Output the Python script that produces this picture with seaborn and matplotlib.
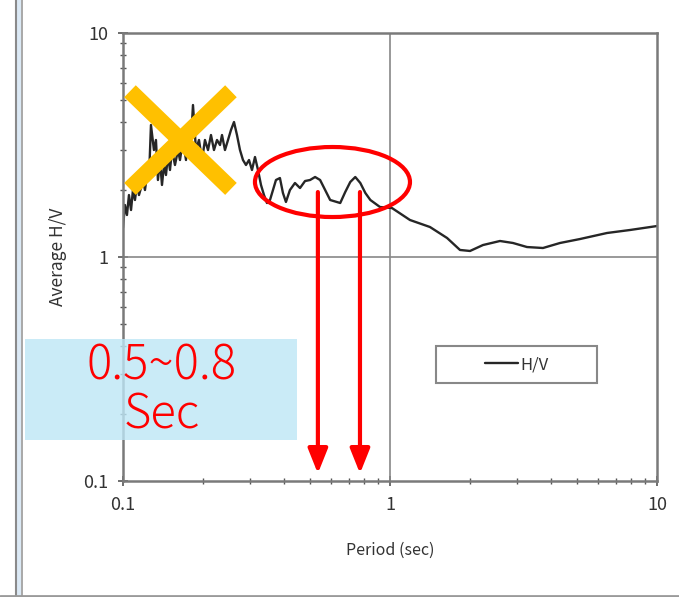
import matplotlib
matplotlib.use("Agg")
import matplotlib.pyplot as plt
import matplotlib.patches as mpatches
from matplotlib.lines import Line2D
from matplotlib.ticker import LogLocator, NullFormatter
import seaborn as sns
import pandas as pd

# ---- data ----
period = [0.1000, 0.1017, 0.1035, 0.1053, 0.1072, 0.1090, 0.1109, 0.1128, 0.1148,
          0.1168, 0.1188, 0.1209, 0.1230, 0.1251, 0.1273, 0.1306, 0.1329, 0.1352,
          0.1376, 0.1400, 0.1424, 0.1449, 0.1474, 0.1500, 0.1526, 0.1566, 0.1607,
          0.1635, 0.1678, 0.1722, 0.1752, 0.1798, 0.1829, 0.1877, 0.1926, 0.1977,
          0.2028, 0.2082, 0.2136, 0.2192, 0.2250, 0.2309, 0.2349, 0.2410, 0.2474,
          0.2538, 0.2605, 0.2673, 0.2743, 0.2815, 0.2889, 0.2965, 0.3042, 0.3122,
          0.3204, 0.3288, 0.3374, 0.3462, 0.3553, 0.3646, 0.3741, 0.3871, 0.3973,
          0.4077, 0.4220, 0.4407, 0.4603, 0.4807, 0.5020, 0.5242, 0.5474, 0.5717,
          0.5970, 0.6511, 0.6799, 0.7100, 0.7414, 0.7743, 0.8086, 0.8443, 0.9173,
          1.0175, 1.188, 1.412, 1.636, 1.829, 1.994, 2.230, 2.582, 2.888, 3.259,
          3.741, 4.333, 5.147, 6.498, 7.921, 10.0]
hv = [1.348, 1.707, 1.540, 1.891, 1.621, 1.991, 1.797, 2.097, 1.891,
      2.032, 2.207, 1.991, 2.323, 2.207, 3.885, 3.004, 3.330, 2.207,
      2.710, 2.097, 2.575, 2.323, 2.853, 2.446, 3.004, 2.575, 3.004,
      2.710, 3.330, 2.710, 3.690, 3.330, 4.770, 3.004, 3.330, 2.710,
      3.330, 3.004, 3.504, 3.004, 3.330, 3.162, 3.504, 3.004, 3.330,
      3.690, 4.006, 3.504, 3.004, 2.710, 2.575, 2.710, 2.446, 2.795,
      2.446, 2.097, 1.891, 1.742, 1.797, 1.991, 2.207, 2.252, 1.931,
      1.761, 1.991, 2.140, 2.032, 2.184, 2.207, 2.276, 2.207, 1.991,
      1.797, 1.742, 1.951, 2.162, 2.276, 2.140, 1.931, 1.797, 1.672,
      1.654, 1.463, 1.361, 1.216, 1.075, 1.064, 1.131, 1.179, 1.155, 1.108,
      1.097, 1.155, 1.203, 1.280, 1.320, 1.375]
series_label = "H/V"
axis_ticks = [0.1, 1, 10]
axis_tick_labels = ["0.1", "1", "10"]
x_label = "Period (sec)"
y_label = "Average H/V"
note_text = "0.5~0.8\nSec"
arrow_periods = [0.537, 0.772]

df = pd.DataFrame({"Period": period, "HV": hv})

sns.set_style("white")
plt.rcParams["font.family"] = ["Noto Sans CJK JP", "DejaVu Sans"]

fig = plt.figure(figsize=(6.79, 5.97), dpi=100)
ax = fig.add_axes([0.1811, 0.1943, 0.7865, 0.7504])

sns.lineplot(data=df, x="Period", y="HV", ax=ax, color="#262626", lw=1.7,
             sort=False, legend=False)

ax.set_xscale("log")
ax.set_yscale("log")
ax.set_xlim(0.1, 10)
ax.set_ylim(0.1, 10)
ax.set_xticks(axis_ticks, axis_tick_labels)
ax.set_yticks(axis_ticks, axis_tick_labels)
ax.xaxis.set_minor_locator(LogLocator(base=10, subs=range(2, 10)))
ax.yaxis.set_minor_locator(LogLocator(base=10, subs=range(2, 10)))
ax.xaxis.set_minor_formatter(NullFormatter())
ax.yaxis.set_minor_formatter(NullFormatter())
ax.tick_params(which="major", direction="inout", length=7, width=1.2,
               color="#555555", labelsize=13, labelcolor="#333333", pad=7)
ax.tick_params(which="minor", direction="inout", length=5, width=1.0,
               color="#555555")
ax.tick_params(axis="y", which="both", left=True)
ax.tick_params(axis="x", which="both", bottom=True)

for s in ax.spines.values():
    s.set_color("#7a7a7a")
    s.set_linewidth(1.8)

ax.axvline(1, color="#888888", lw=1.2, zorder=1)
ax.axhline(1, color="#888888", lw=1.2, zorder=1)

ax.set_xlabel(x_label, fontsize=11.5, color="#333333", labelpad=20)
ax.set_ylabel(y_label, fontsize=12.5, color="#333333", labelpad=12)

# legend: frame drawn as a separate rectangle so the entry sits centred
frame = mpatches.Rectangle((0.586, 0.219), 0.302, 0.082, transform=ax.transAxes,
                           facecolor="white", edgecolor="#888888", lw=1.5, zorder=4)
ax.add_patch(frame)
handle = Line2D([], [], color="#262626", lw=1.7)
leg = ax.legend([handle], [series_label], loc="center",
                bbox_to_anchor=(0.737, 0.26), frameon=False, fontsize=12,
                handlelength=2.0, handletextpad=0.1)
leg.set_zorder(5)
for t in leg.get_texts():
    t.set_color("#333333")

# ---- overlays: orange X, red ellipse, red arrows ----
ax.plot([0.0131, 0.2022], [0.870, 0.652], transform=ax.transAxes,
        color="#FFC000", lw=12, solid_capstyle="butt", zorder=5, clip_on=False)
ax.plot([0.2022, 0.0131], [0.870, 0.652], transform=ax.transAxes,
        color="#FFC000", lw=12, solid_capstyle="butt", zorder=5, clip_on=False)

ell = mpatches.Ellipse((0.3923, 0.6674), 0.2903, 0.1563, transform=ax.transAxes,
                       fill=False, edgecolor="#FF0000", lw=3.0, zorder=6)
ax.add_patch(ell)

for p in arrow_periods:
    ax.annotate("", xy=(p, 0.108), xytext=(p, 1.95),
                arrowprops=dict(arrowstyle="-|>,head_length=0.75,head_width=0.3",
                                mutation_scale=20, lw=3, color="#FF0000",
                                shrinkA=0, shrinkB=0), zorder=6)

# ---- light blue note box ----
box = mpatches.Rectangle((0.0368, 0.2630), 0.4006, 0.1692, transform=fig.transFigure,
                         facecolor="#BDE6F6", edgecolor="none", alpha=0.8, zorder=10)
fig.add_artist(box)
fig.text(0.238, 0.346, note_text, transform=fig.transFigure, ha="center",
         va="center", fontsize=34, color="#FF0000", linespacing=1.0, zorder=11,
         fontweight="light")

# ---- screenshot frame ----
fig.add_artist(Line2D([16/679, 16/679], [0, 1], transform=fig.transFigure,
                      color="#8a8a8a", lw=1.5))
fig.add_artist(mpatches.Rectangle((17/679, 0), 4/679, 1, transform=fig.transFigure,
                                  facecolor="#dbe9f5", edgecolor="none"))
fig.add_artist(Line2D([22/679, 22/679], [0, 1], transform=fig.transFigure,
                      color="#9a9a9a", lw=1.2))
fig.add_artist(Line2D([0, 1], [1.5/597, 1.5/597], transform=fig.transFigure,
                      color="#9a9a9a", lw=2))

fig.savefig("out.png", dpi=100)
